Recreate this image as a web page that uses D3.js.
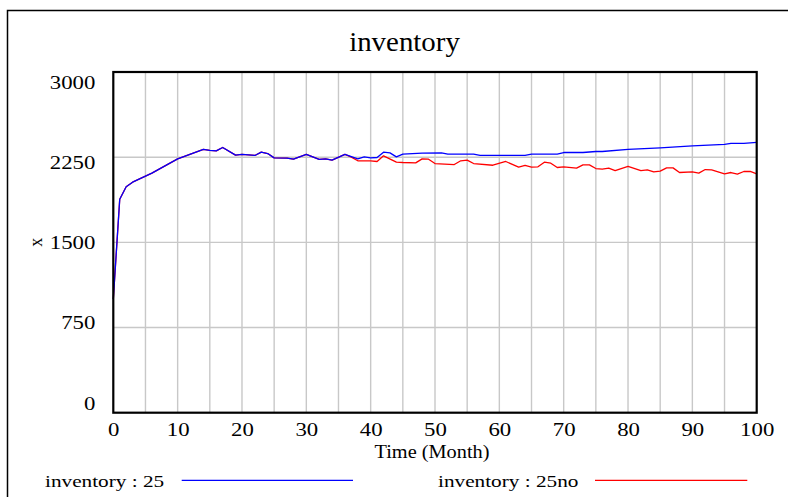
<!DOCTYPE html>
<html>
<head>
<meta charset="utf-8">
<script src="https://cdn.jsdelivr.net/npm/d3@7"></script>
<style>
  html, body { margin: 0; padding: 0; background: #fff; }
  svg { display: block; font-family: "Liberation Serif", "Times New Roman", serif; }
</style>
</head>
<body>
<div id="chart"></div>
<script>
// inventory run "25" (blue)
const blueTimes = [0, 1, 2, 3, 6, 10, 14, 15, 16, 17, 19, 20, 22, 23, 24, 25, 27, 28, 30, 32, 33, 34, 36, 38, 39, 40, 41, 42, 43, 44, 45, 48, 51, 52, 56, 57, 64, 65, 69, 70, 73, 75, 76, 80, 85, 90, 95, 96, 98, 100];
const blueValues = [1000, 1880, 1990, 2030, 2110, 2235, 2318, 2310, 2306, 2335, 2268, 2274, 2265, 2294, 2282, 2244, 2241, 2232, 2274, 2230, 2235, 2224, 2274, 2235, 2253, 2244, 2247, 2294, 2288, 2253, 2276, 2285, 2288, 2276, 2276, 2265, 2265, 2276, 2276, 2291, 2291, 2300, 2300, 2318, 2332, 2350, 2362, 2371, 2371, 2380];

// inventory run "25no" (red)
const redTimes = [0, 1, 2, 3, 6, 10, 14, 15, 16, 17, 19, 20, 22, 23, 24, 25, 27, 28, 30, 32, 33, 34, 36, 37, 38, 40, 41, 42, 44, 45, 47, 48, 49, 50, 53, 54, 55, 56, 59, 61, 63, 64, 65, 66, 67, 68, 69, 70, 72, 73, 74, 75, 76, 77, 78, 80, 82, 83, 84, 85, 86, 87, 88, 90, 91, 92, 93, 95, 96, 97, 98, 99, 100];
const redValues = [1000, 1880, 1990, 2030, 2110, 2235, 2318, 2310, 2306, 2335, 2268, 2274, 2265, 2294, 2282, 2244, 2241, 2232, 2274, 2230, 2235, 2224, 2274, 2250, 2218, 2218, 2212, 2262, 2206, 2203, 2200, 2235, 2232, 2194, 2185, 2218, 2224, 2194, 2179, 2212, 2162, 2177, 2162, 2165, 2206, 2197, 2159, 2165, 2153, 2182, 2182, 2150, 2144, 2153, 2132, 2170, 2132, 2138, 2121, 2127, 2156, 2156, 2115, 2121, 2109, 2141, 2138, 2103, 2115, 2100, 2124, 2124, 2103];

const xTicks = [0, 10, 20, 30, 40, 50, 60, 70, 80, 90, 100];
const xGrid = [5, 10, 15, 20, 25, 30, 35, 40, 45, 50, 55, 60, 65, 70, 75, 80, 85, 90, 95];
const yTicks = [0, 750, 1500, 2250, 3000];
const yGrid = [750, 1500, 2250];

const runs = [
  { name: "inventory : 25no", times: redTimes, values: redValues, color: "#ff0000" },
  { name: "inventory : 25", times: blueTimes, values: blueValues, color: "#0000ff" },
];

const W = 788, H = 497;
const M = { left: 113.3, right: 756.7, top: 72, bottom: 412.7 };
const SX = 1.2; // glyphs in the reference are horizontally stretched

const svg = d3.select("#chart").append("svg").attr("width", W).attr("height", H);

// outer frame
svg.append("rect")
  .attr("x", 7.5).attr("y", 10.5)
  .attr("width", 800).attr("height", 520)
  .attr("fill", "none").attr("stroke", "#000").attr("stroke-width", 1.5);

const x = d3.scaleLinear().domain([0, 100]).range([M.left, M.right]);
const y = d3.scaleLinear().domain([0, 3000]).range([M.bottom, M.top]);
// tick labels sit inside the axis range, like the original tool draws them
const yLab = d3.scaleLinear().domain([0, 3000]).range([M.bottom - 9.7, M.top + 10.5]);

// grid
svg.append("g").selectAll("line").data(xGrid).join("line")
  .attr("x1", (d) => x(d)).attr("x2", (d) => x(d))
  .attr("y1", M.top).attr("y2", M.bottom)
  .attr("stroke", "#c8c8c8").attr("stroke-width", 1.4);
svg.append("g").selectAll("line").data(yGrid).join("line")
  .attr("x1", M.left).attr("x2", M.right)
  .attr("y1", (d) => y(d)).attr("y2", (d) => y(d))
  .attr("stroke", "#c8c8c8").attr("stroke-width", 1.4);

// lines
const line = d3.line().x((d) => x(d[0])).y((d) => y(d[1]));
svg.append("g").selectAll("path").data(runs).join("path")
  .attr("d", (r) => line(d3.zip(r.times, r.values)))
  .attr("fill", "none")
  .attr("stroke", (r) => r.color)
  .attr("stroke-width", 1.3)
  .attr("stroke-linejoin", "round");

// plot border
svg.append("rect")
  .attr("x", M.left).attr("y", M.top)
  .attr("width", M.right - M.left).attr("height", M.bottom - M.top)
  .attr("fill", "none").attr("stroke", "#000").attr("stroke-width", 2.2);

// axes
const xAxis = svg.append("g")
  .attr("transform", `translate(0,${M.bottom})`)
  .call(d3.axisBottom(x).tickValues(xTicks).tickSize(0).tickPadding(10).tickFormat(d3.format("d")));
xAxis.select(".domain").remove();
xAxis.selectAll("text")
  .attr("font-family", "Liberation Serif").attr("font-size", 19).attr("fill", "#000")
  .attr("transform", `scale(${SX},1)`);

const yAxis = svg.append("g")
  .attr("transform", `translate(${M.left},0)`)
  .call(d3.axisLeft(yLab).tickValues(yTicks).tickSize(0).tickFormat(d3.format("d")));
yAxis.select(".domain").remove();
yAxis.selectAll("text")
  .attr("font-family", "Liberation Serif").attr("font-size", 19).attr("fill", "#000")
  .attr("x", -18 / SX)
  .attr("transform", `scale(${SX},1)`);

// title and axis labels
svg.append("text")
  .attr("transform", `translate(404.5,50.7) scale(1.07,1)`)
  .attr("text-anchor", "middle").attr("font-size", 27)
  .text("inventory");

svg.append("text")
  .attr("transform", `translate(432,457.5) scale(1.13,1)`)
  .attr("text-anchor", "middle").attr("font-size", 18)
  .text("Time (Month)");

svg.append("text")
  .attr("transform", `translate(42,${(M.top + M.bottom) / 2}) rotate(-90)`)
  .attr("text-anchor", "middle").attr("font-size", 18)
  .text("x");

// legend
const legendPos = [{ tx: 45, x1: 181.7, x2: 353 }, { tx: 438, x1: 595, x2: 747.3 }];
const legend = svg.append("g").selectAll("g").data(runs.slice().reverse()).join("g");
legend.append("text")
  .attr("transform", (d, i) => `translate(${legendPos[i].tx},486.7) scale(1.25,1)`)
  .attr("font-size", 17)
  .text((d) => d.name);
legend.append("line")
  .attr("x1", (d, i) => legendPos[i].x1).attr("x2", (d, i) => legendPos[i].x2)
  .attr("y1", 480.3).attr("y2", 480.3)
  .attr("stroke", (d) => d.color).attr("stroke-width", 1.3);
</script>
</body>
</html>
